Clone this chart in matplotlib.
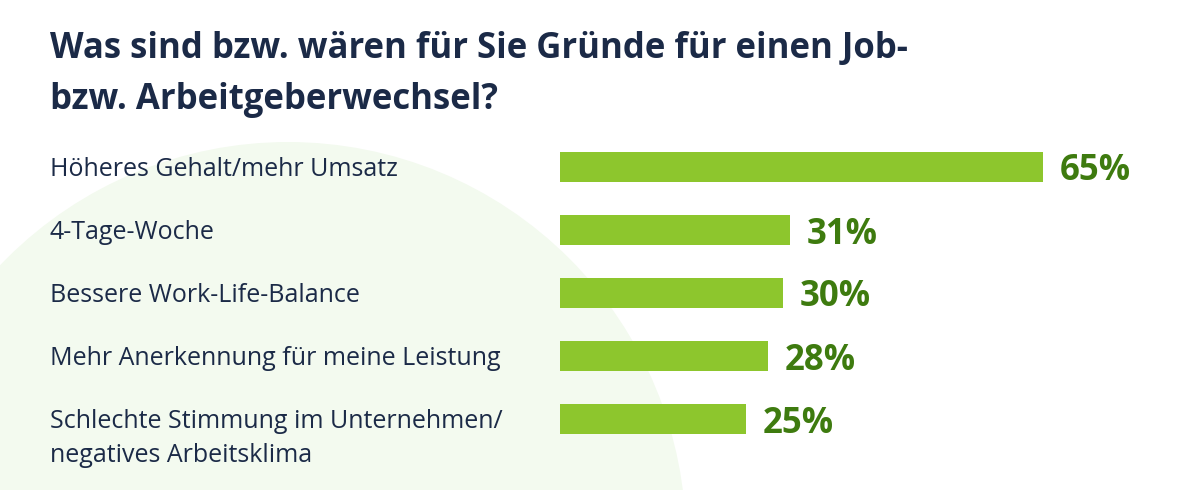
import matplotlib.pyplot as plt
from matplotlib.patches import Ellipse
from matplotlib.transforms import blended_transform_factory

# data
categories = [
    "Höheres Gehalt/mehr Umsatz",
    "4-Tage-Woche",
    "Bessere Work-Life-Balance",
    "Mehr Anerkennung für meine Leistung",
    "Schlechte Stimmung im Unternehmen/\nnegatives Arbeitsklima",
]
values = [65, 31, 30, 28, 25]
title = "Was sind bzw. wären für Sie Gründe für einen Job-\nbzw. Arbeitgeberwechsel?"

navy = "#1b2a47"
bar_green = "#8dc62d"
label_green = "#3e7b0f"
pale = "#f3faef"

plt.rcParams["font.family"] = ["Open Sans", "DejaVu Sans"]

W, H = 1200, 490
fig = plt.figure(figsize=(W / 100, H / 100), dpi=100)
fig.patch.set_facecolor("white")

# pale background circle
circ = Ellipse((288 / W, (H - 540) / H), 796 / W, 796 / H,
               transform=fig.transFigure, facecolor=pale, edgecolor="none", zorder=-5)
fig.patches.append(circ)

ax = fig.add_axes([560 / W, (H - 450.5) / H, (1043 - 560) / W, 315 / H])
ax.set_zorder(2)
ax.patch.set_alpha(0)
ax.set_xlim(0, max(values))
ax.set_ylim(len(values) - 0.5, -0.5)

y = list(range(len(values)))
ax.barh(y, values, height=30 / 63, color=bar_green)

for i, v in enumerate(values):
    ax.annotate(f"{v}%", (v, i), xytext=(12, 0), textcoords="offset points",
                va="center_baseline", ha="left", fontsize=25, fontweight="bold",
                color=label_green)

# category labels: first line baseline slightly below bar centre
trans = blended_transform_factory(fig.transFigure, ax.transData)
for i, c in enumerate(categories):
    extra = c.count("\n")
    ax.text(50 / W, i + 0.143 + extra * 34 / 63, c, transform=trans,
            ha="left", va="baseline", fontsize=18, color=navy,
            linespacing=1.5, clip_on=False)

fig.text(50 / W, 1 - 109 / H, title, ha="left", va="baseline", fontsize=25,
         fontweight="bold", color=navy, linespacing=1.56)

ax.axis("off")
fig.savefig("out.png", dpi=100)
